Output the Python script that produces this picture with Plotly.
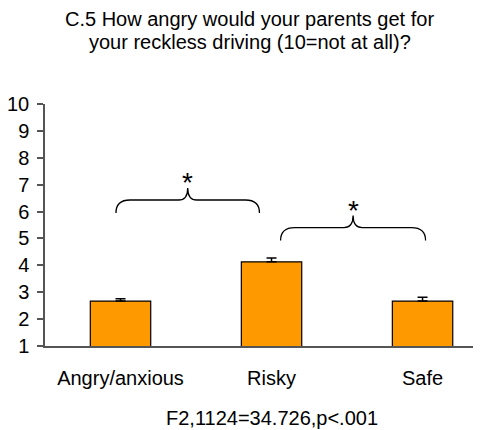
import plotly.graph_objects as go

categories = ["Angry/anxious", "Risky", "Safe"]
means = [2.67, 4.13, 2.67]
errors = [0.09, 0.14, 0.14]
y_ticks = [1, 2, 3, 4, 5, 6, 7, 8, 9, 10]

title_lines = ["C.5 How angry would your parents get for",
               "your reckless driving (10=not at all)?"]
footer_text = "F2,1124=34.726,p<.001"

# significance braces: (left x, right x, level y)
brace_left = [-0.03, 1.06]
brace_right = [0.92, 2.02]
brace_level = [6.43, 5.40]
brace_label = ["*", "*"]

FONT = "Liberation Sans, Arial, sans-serif"
x_pos = list(range(len(categories)))

fig = go.Figure()
fig.add_trace(go.Bar(
    x=x_pos, y=means, width=0.4,
    marker=dict(color="#FF9900", line=dict(color="black", width=1.2)),
    error_y=dict(type="data", array=errors, arrayminus=[0]*len(errors), symmetric=False,
                 color="black", thickness=1.5, width=5),
))

rx, ry = 0.093, 0.48   # corner radius (data units)
tx, ty = 0.06, 0.45    # tip size
for x0, x1, yl, lab in zip(brace_left, brace_right, brace_level, brace_label):
    xm = (x0 + x1) / 2
    path = (f"M {x0},{yl-ry} Q {x0},{yl} {x0+rx},{yl} L {xm-tx},{yl} "
            f"Q {xm},{yl} {xm},{yl+ty} Q {xm},{yl} {xm+tx},{yl} L {x1-rx},{yl} "
            f"Q {x1},{yl} {x1},{yl-ry}")
    fig.add_shape(type="path", path=path, xref="x", yref="y",
                  line=dict(color="black", width=1.3))
    fig.add_annotation(x=xm, y=yl+ty, text=lab, showarrow=False, xref="x", yref="y",
                       yanchor="bottom", yshift=-12, font=dict(family=FONT, size=28, color="black"))

# title lines, centred ~19px and ~42px from the top of the window
for i, line in enumerate(title_lines):
    fig.add_annotation(text=line, x=0.47, y=1.0, xref="paper", yref="paper",
                       xanchor="center", yanchor="middle", showarrow=False,
                       yshift=(104 - 19) - 23 * i,
                       font=dict(family=FONT, size=20, color="black"))
fig.add_annotation(text=footer_text, x=0.52, y=-0.2975, xref="paper", yref="paper",
                   xanchor="center", yanchor="middle", showarrow=False,
                   font=dict(family=FONT, size=20, color="black"))

# page body has an 8px default margin, so the figure is offset by 8px
fig.update_layout(
    width=473, height=422, autosize=False,
    margin=dict(l=37, r=0, t=96, b=84),
    plot_bgcolor="white", paper_bgcolor="white",
    showlegend=False,
    font=dict(family=FONT, size=20, color="black"),
    xaxis=dict(range=[-0.5, 2.387], tickvals=x_pos, ticktext=categories,
               showline=True, linecolor="#555", linewidth=1.5, ticks="",
               showgrid=False, zeroline=False, ticklabelstandoff=13,
               tickfont=dict(family=FONT, size=20, color="black")),
    yaxis=dict(range=[1, 10], tickvals=y_ticks, showline=True, linecolor="#555", linewidth=1.5,
               ticks="outside", ticklen=6, tickcolor="#555", tickwidth=1.5,
               showgrid=False, zeroline=False, ticklabelstandoff=4,
               tickfont=dict(family=FONT, size=20, color="black")),
)

fig.write_html("out.html")
